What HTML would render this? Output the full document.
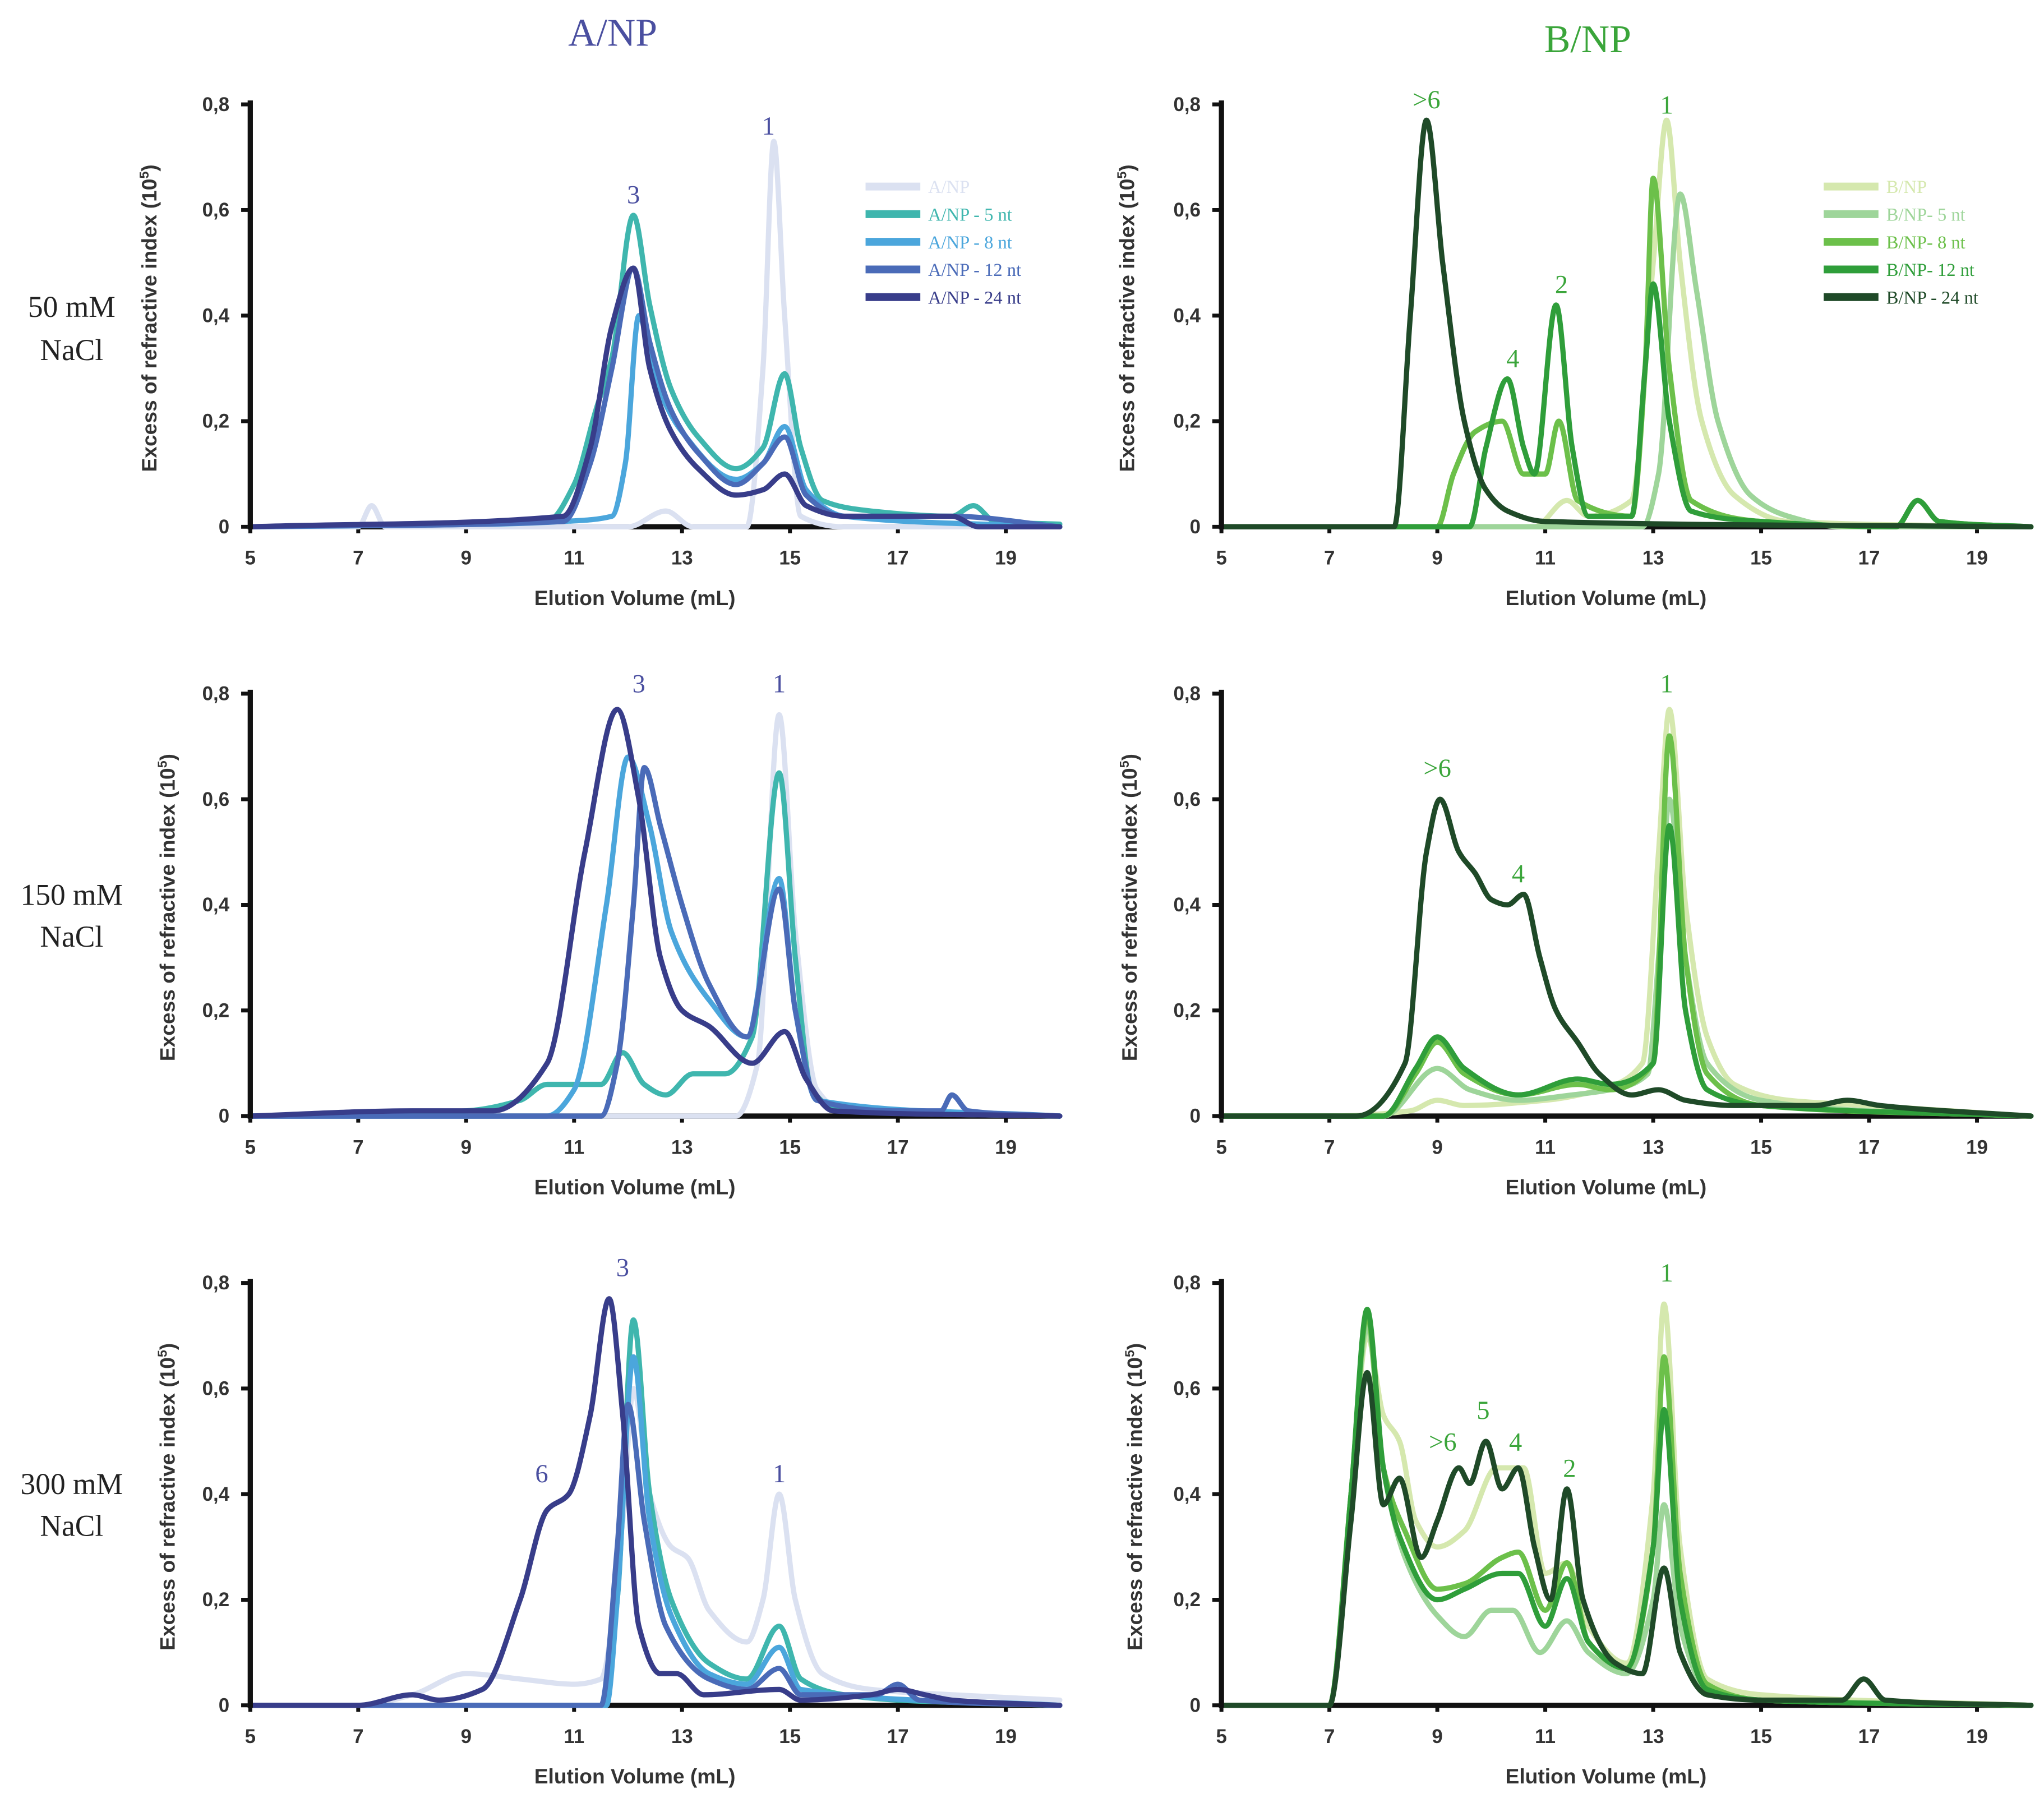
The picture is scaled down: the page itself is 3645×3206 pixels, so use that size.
<!DOCTYPE html>
<html><head><meta charset="utf-8"><style>
html,body{margin:0;padding:0;background:#fff}
svg{display:block}
.tk{font-family:"Liberation Sans",sans-serif;font-weight:bold;font-size:15px;fill:#333}
.ttl{font-family:"Liberation Sans Narrow","Liberation Sans",sans-serif;font-weight:bold;font-size:16px;fill:#333}
.row{font-family:"Liberation Serif",serif;font-size:23px;fill:#222}
.ann{font-family:"Liberation Serif",serif;font-size:20px}
.leg{font-family:"Liberation Serif",serif;font-size:14px}
</style></head><body>
<svg id="fig" width="3645" height="3206" viewBox="0 0 1568 1379" xmlns="http://www.w3.org/2000/svg">
<text x="470" y="35" text-anchor="middle" class="row" style="font-size:30px;fill:#4a4fa0">A/NP</text>
<text x="1218" y="40" text-anchor="middle" class="row" style="font-size:30px;fill:#3aa53a">B/NP</text>
<text x="55" y="243" text-anchor="middle" class="row">50 mM</text>
<text x="55" y="276" text-anchor="middle" class="row">NaCl</text>
<text x="55" y="694" text-anchor="middle" class="row">150 mM</text>
<text x="55" y="726" text-anchor="middle" class="row">NaCl</text>
<text x="55" y="1146" text-anchor="middle" class="row">300 mM</text>
<text x="55" y="1178" text-anchor="middle" class="row">NaCl</text>
</svg>
<script>
const aColors=["#dbe1f1","#3fb6ae","#4ba6dc","#4a6bb8","#383d8a"];
const bColors=["#d5e8ae","#9ed59a","#6cc04a","#2f9e3a","#1f4a28"];
const aNames=["A/NP","A/NP - 5 nt","A/NP - 8 nt","A/NP - 12 nt","A/NP - 24 nt"];
const bNames=["B/NP","B/NP- 5 nt","B/NP- 8 nt","B/NP- 12 nt","B/NP - 24 nt"];
const xTicks=[5,7,9,11,13,15,17,19];
const yTicks=[0,0.2,0.4,0.6,0.8];
const yTickLabels=["0","0,2","0,4","0,6","0,8"];

const a1=[
[[5,0],[7,0],[7.25,0.04],[7.5,0],[12,0],[12.7,0.03],[13.2,0],[14.2,0],[14.5,0.3],[14.7,0.73],[14.9,0.4],[15.2,0.02],[16,0],[20,0]],
[[5,0],[10.5,0.01],[11,0.08],[11.4,0.22],[11.7,0.32],[12.1,0.59],[12.4,0.42],[12.8,0.26],[13.3,0.17],[14,0.11],[14.5,0.15],[14.9,0.29],[15.2,0.15],[15.6,0.05],[16.5,0.03],[18,0.02],[18.4,0.04],[18.8,0.01],[20,0.005]],
[[5,0],[9.5,0.005],[10.8,0.01],[11.7,0.02],[11.95,0.12],[12.2,0.4],[12.5,0.28],[13,0.18],[14,0.09],[14.5,0.12],[14.9,0.19],[15.3,0.07],[16,0.02],[20,0]],
[[5,0],[10.8,0.01],[11.3,0.12],[11.7,0.3],[12.1,0.49],[12.4,0.35],[12.8,0.22],[13.3,0.14],[14,0.08],[14.5,0.12],[14.9,0.17],[15.3,0.06],[16,0.02],[18,0.02],[20,0]],
[[5,0],[10.8,0.02],[11.3,0.15],[11.7,0.38],[12.1,0.49],[12.4,0.3],[12.8,0.18],[13.3,0.11],[14,0.06],[14.5,0.07],[14.9,0.1],[15.3,0.04],[16,0.02],[18,0.02],[18.5,0],[20,0]]];
const a2=[
[[5,0],[14,0],[14.4,0.1],[14.8,0.76],[15.1,0.35],[15.5,0.05],[16,0.01],[20,0]],
[[5,0],[9,0.01],[10,0.03],[10.5,0.06],[11.5,0.06],[11.9,0.12],[12.3,0.06],[12.7,0.04],[13.2,0.08],[13.8,0.08],[14.3,0.15],[14.8,0.65],[15.1,0.3],[15.4,0.05],[16,0.01],[20,0]],
[[5,0],[10.5,0],[11,0.05],[11.6,0.4],[12.0,0.68],[12.4,0.55],[12.8,0.35],[13.5,0.22],[14.2,0.15],[14.8,0.45],[15.1,0.2],[15.5,0.03],[20,0]],
[[5,0],[11.5,0],[11.8,0.1],[12.1,0.4],[12.3,0.66],[12.6,0.55],[13,0.4],[13.5,0.25],[14.2,0.15],[14.8,0.43],[15.1,0.2],[15.5,0.03],[17,0.01],[17.8,0.01],[18,0.04],[18.3,0.01],[20,0]],
[[5,0],[8,0.01],[9.5,0.01],[10.5,0.1],[11.2,0.5],[11.8,0.77],[12.2,0.6],[12.6,0.3],[13,0.2],[13.5,0.17],[14.3,0.1],[14.9,0.16],[15.3,0.07],[15.8,0.01],[20,0]]];
const a3=[
[[5,0],[7,0],[8,0.02],[9,0.06],[10,0.05],[11,0.04],[11.5,0.05],[11.9,0.35],[12.1,0.6],[12.4,0.4],[12.8,0.3],[13.1,0.28],[13.5,0.18],[14.2,0.12],[14.5,0.2],[14.8,0.4],[15.1,0.2],[15.6,0.06],[16.5,0.03],[18,0.02],[20,0.01]],
[[5,0],[11.5,0],[11.8,0.2],[12.1,0.73],[12.4,0.4],[12.8,0.2],[13.5,0.08],[14.2,0.05],[14.8,0.15],[15.2,0.05],[16,0.02],[17,0.01],[20,0]],
[[5,0],[11.6,0],[11.8,0.2],[12.1,0.66],[12.4,0.35],[12.8,0.17],[13.5,0.06],[14.2,0.04],[14.8,0.11],[15.2,0.03],[20,0]],
[[5,0],[11.5,0],[11.8,0.3],[12.0,0.57],[12.3,0.35],[12.7,0.15],[13.5,0.05],[14.2,0.03],[14.8,0.07],[15.2,0.02],[16.6,0.02],[17,0.04],[17.4,0.01],[20,0]],
[[5,0],[7,0],[8,0.02],[8.5,0.01],[9.3,0.03],[10,0.2],[10.5,0.37],[10.9,0.4],[11.3,0.55],[11.65,0.77],[11.9,0.55],[12.2,0.15],[12.6,0.06],[12.9,0.06],[13.4,0.02],[14.8,0.03],[15.2,0.01],[16.5,0.02],[17,0.03],[17.5,0.02],[18,0.01],[20,0]]];
const b1=[
[[5,0],[10.8,0],[11.4,0.05],[11.8,0.02],[12.6,0.05],[13.0,0.5],[13.25,0.77],[13.5,0.5],[13.9,0.2],[14.5,0.06],[15.5,0.01],[20,0]],
[[5,0],[12.8,0],[13.1,0.1],[13.5,0.63],[13.8,0.45],[14.2,0.2],[14.8,0.06],[15.5,0.02],[16.5,0],[20,0]],
[[5,0],[9,0],[9.3,0.1],[9.7,0.18],[10.2,0.2],[10.6,0.1],[11,0.1],[11.25,0.2],[11.6,0.05],[12.6,0.02],[12.85,0.3],[13.0,0.66],[13.3,0.3],[13.7,0.05],[15,0.01],[17.5,0],[17.9,0.05],[18.3,0.01],[20,0]],
[[5,0],[9.6,0],[9.9,0.15],[10.3,0.28],[10.6,0.15],[10.8,0.1],[11.2,0.42],[11.5,0.15],[11.8,0.02],[12.6,0.02],[12.85,0.3],[13.0,0.46],[13.3,0.2],[13.7,0.03],[15,0.01],[17.5,0],[17.9,0.05],[18.3,0.01],[20,0]],
[[5,0],[8.2,0],[8.5,0.4],[8.8,0.77],[9.1,0.5],[9.5,0.2],[9.9,0.07],[10.3,0.03],[11,0.01],[20,0]]];
const b2=[
[[5,0],[7,0],[8.5,0.01],[9,0.03],[9.5,0.02],[11,0.03],[12,0.05],[12.8,0.1],[13.1,0.5],[13.3,0.77],[13.6,0.4],[14,0.15],[14.5,0.06],[15.5,0.03],[17,0.02],[20,0]],
[[5,0],[8,0],[9,0.09],[9.6,0.05],[10.5,0.03],[11.5,0.04],[12.2,0.05],[12.9,0.08],[13.1,0.3],[13.3,0.6],[13.6,0.3],[14,0.1],[15,0.03],[17,0.01],[20,0]],
[[5,0],[8,0],[8.6,0.08],[9,0.14],[9.5,0.08],[10.5,0.04],[11.6,0.06],[12.2,0.05],[13.0,0.1],[13.3,0.72],[13.6,0.3],[14,0.08],[15,0.02],[20,0]],
[[5,0],[8,0],[8.6,0.09],[9,0.15],[9.5,0.09],[10.5,0.04],[11.6,0.07],[12.2,0.06],[13.0,0.1],[13.3,0.55],[13.6,0.2],[14,0.05],[15,0.02],[20,0]],
[[5,0],[7.5,0],[8.4,0.1],[8.8,0.5],[9.05,0.6],[9.4,0.5],[9.7,0.46],[10.0,0.41],[10.3,0.4],[10.6,0.42],[10.9,0.3],[11.2,0.2],[11.6,0.14],[12,0.08],[12.6,0.04],[13.1,0.05],[13.6,0.03],[14.5,0.02],[16,0.02],[16.6,0.03],[17.2,0.02],[20,0]]];
const b3=[
[[5,0],[7,0],[7.4,0.4],[7.7,0.7],[8.0,0.55],[8.3,0.5],[8.6,0.35],[9,0.3],[9.5,0.33],[10.1,0.45],[10.6,0.45],[11,0.25],[11.4,0.27],[11.8,0.15],[12.5,0.08],[13,0.4],[13.2,0.76],[13.5,0.3],[14,0.05],[15,0.02],[20,0]],
[[5,0],[7,0],[7.4,0.4],[7.7,0.72],[8.0,0.45],[8.4,0.28],[9,0.17],[9.5,0.13],[10,0.18],[10.4,0.18],[10.9,0.1],[11.4,0.16],[11.8,0.1],[12.5,0.06],[13,0.2],[13.2,0.38],[13.5,0.15],[14,0.03],[15,0.01],[20,0]],
[[5,0],[7,0],[7.4,0.4],[7.7,0.74],[8.0,0.45],[8.4,0.33],[9,0.22],[9.5,0.23],[10.2,0.28],[10.5,0.29],[11,0.18],[11.4,0.27],[11.8,0.12],[12.5,0.07],[13,0.3],[13.2,0.66],[13.5,0.25],[14,0.04],[15,0.01],[20,0]],
[[5,0],[7,0],[7.4,0.4],[7.7,0.75],[8.0,0.45],[8.3,0.32],[9,0.2],[9.5,0.22],[10.2,0.25],[10.5,0.25],[11,0.15],[11.4,0.24],[11.8,0.12],[12.5,0.07],[13,0.3],[13.2,0.56],[13.5,0.2],[14,0.03],[15,0.01],[20,0]],
[[5,0],[7,0],[7.4,0.35],[7.7,0.63],[8.0,0.38],[8.3,0.43],[8.7,0.28],[9,0.35],[9.4,0.45],[9.6,0.42],[9.9,0.5],[10.2,0.41],[10.5,0.45],[10.8,0.3],[11.1,0.2],[11.4,0.41],[11.7,0.2],[12.3,0.08],[12.8,0.06],[13.2,0.26],[13.5,0.1],[14,0.02],[15,0.01],[16.5,0.01],[16.9,0.05],[17.3,0.01],[20,0]]];

const annA1=[["3",12.1,0.63],["1",14.6,0.76]];
const annA2=[["3",12.2,0.82],["1",14.8,0.82]];
const annA3=[["3",11.9,0.83],["6",10.4,0.44],["1",14.8,0.44]];
const annB1=[[">6",8.8,0.81],["4",10.4,0.32],["2",11.3,0.46],["1",13.25,0.8]];
const annB2=[["1",13.25,0.82],[">6",9.0,0.66],["4",10.5,0.46]];
const annB3=[["1",13.25,0.82],[">6",9.1,0.5],["5",9.85,0.56],["4",10.45,0.5],["2",11.45,0.45]];

const NS="http://www.w3.org/2000/svg";
const svg=document.getElementById('fig');
function el(t,a,p){const e=document.createElementNS(NS,t);for(const k in a)e.setAttribute(k,a[k]);(p||svg).appendChild(e);return e;}
// monotone cubic (Fritsch-Carlson): no overshoot
function spline(pts){
 const n=pts.length, d=[], m=[];
 for(let i=0;i<n-1;i++) d.push((pts[i+1][1]-pts[i][1])/(pts[i+1][0]-pts[i][0]));
 m[0]=d[0]; m[n-1]=d[n-2];
 for(let i=1;i<n-1;i++){ if(d[i-1]*d[i]<=0) m[i]=0; else { const h0=pts[i][0]-pts[i-1][0],h1=pts[i+1][0]-pts[i][0];
   const w1=2*h1+h0,w2=h1+2*h0; m[i]=(w1+w2)/(w1/d[i-1]+w2/d[i]); } }
 let s="M"+pts[0][0].toFixed(1)+","+pts[0][1].toFixed(1);
 for(let i=0;i<n-1;i++){const h=(pts[i+1][0]-pts[i][0])/3;
  s+=" C"+(pts[i][0]+h).toFixed(1)+","+(pts[i][1]+m[i]*h).toFixed(1)+" "+(pts[i+1][0]-h).toFixed(1)+","+(pts[i+1][1]-m[i+1]*h).toFixed(1)+" "+pts[i+1][0].toFixed(1)+","+pts[i+1][1].toFixed(1);}
 return s;}

function panel(id,ox,oy,series,colors,names,anns,annColor,legend,yTitleX){
 const g=el('g',{});
 
 
 const X=v=>ox+(v-5)*41.4, Y=v=>oy-v*405;
 const xa=el('line',{x1:ox,y1:oy,x2:X(20),y2:oy,stroke:"#111","stroke-width":4},g);
 
 
 xTicks.forEach(t=>{
  const tl=el('line',{x1:X(t),y1:oy,x2:X(t),y2:oy+5,stroke:"#111","stroke-width":3},g);
  
  
  const tx=el('text',{x:X(t),y:oy+29,"text-anchor":"middle",class:"tk"},g);tx.textContent=t;
  
  
 });
 yTicks.forEach((t,i)=>{
  const tl=el('line',{x1:ox-7,y1:Y(t),x2:ox,y2:Y(t),stroke:"#111","stroke-width":3},g);
  
  
  const tx=el('text',{x:ox-16,y:Y(t)+5,"text-anchor":"end",class:"tk"},g);tx.textContent=yTickLabels[i];
  
  
 });
 const xt=el('text',{x:X(15)-119,y:oy+60,"text-anchor":"middle",class:"ttl"},g);xt.textContent="Elution Volume (mL)";
 
 
 const cy=oy-160;
 const yt=el('text',{x:yTitleX,y:cy,"text-anchor":"middle",class:"ttl",transform:`rotate(-90 ${yTitleX} ${cy})`},g);
 yt.innerHTML='Excess of refractive index (10<tspan dy="-6" font-size="10">5</tspan><tspan dy="6">)</tspan>';
 
 
 series.forEach((s,i)=>{
  const p=el('path',{d:spline(s.map(q=>[X(q[0]),Y(q[1])])),fill:"none",stroke:colors[i],"stroke-width":4,"stroke-linejoin":"round","stroke-linecap":"round"},g);
  
  
 });
 const ya=el('line',{x1:ox,y1:oy+2,x2:ox,y2:Y(0.8)-3,stroke:"#111","stroke-width":4},g);
 
 
 anns.forEach(a=>{
  const t=el('text',{x:X(a[1]),y:Y(a[2])+7,"text-anchor":"middle",class:"ann",fill:annColor},g);t.textContent=a[0];
  
  
 });
 if(legend){
  names.forEach((n,i)=>{
   const y=oy-261+i*21.2;
   const l=el('line',{x1:legend,y1:y,x2:legend+42,y2:y,stroke:colors[i],"stroke-width":6},g);
   
   
   const t=el('text',{x:legend+48,y:y+5,class:"leg",fill:colors[i]},g);t.textContent=n;
   
   
  });
 }
}
panel('panel-a-50mm',192,404,a1,aColors,aNames,annA1,"#4a4fa0",664,120);
panel('panel-b-50mm',937,404,b1,bColors,bNames,annB1,"#3aa53a",1399,870);
panel('panel-a-150mm',192,856,a2,aColors,aNames,annA2,"#4a4fa0",0,134);
panel('panel-b-150mm',937,856,b2,bColors,bNames,annB2,"#3aa53a",0,872);
panel('panel-a-300mm',192,1308,a3,aColors,aNames,annA3,"#4a4fa0",0,134);
panel('panel-b-300mm',937,1308,b3,bColors,bNames,annB3,"#3aa53a",0,876);
</script>
</body></html>
